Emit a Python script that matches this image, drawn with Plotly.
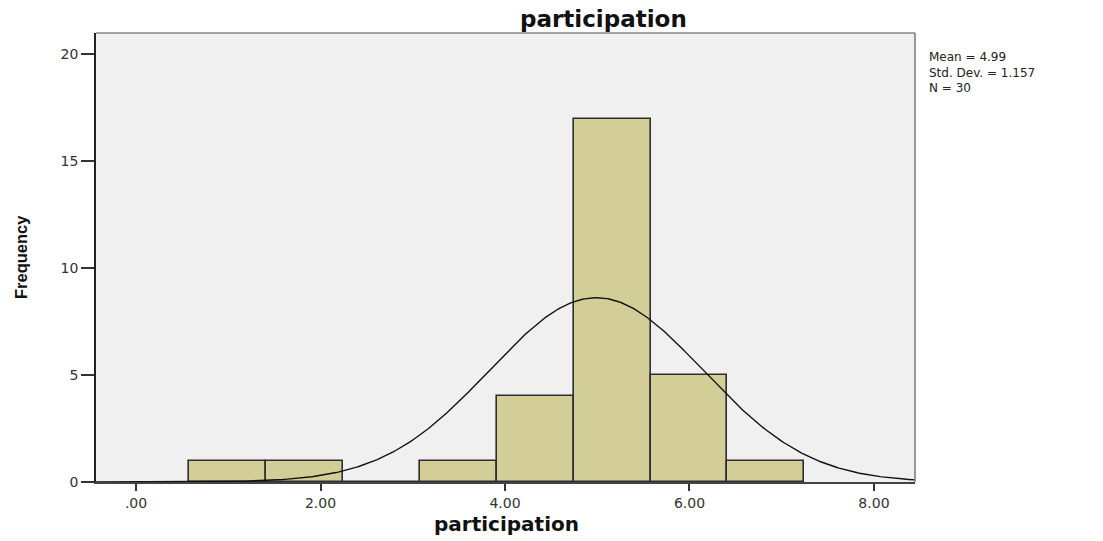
import numpy as np
import plotly.graph_objects as go

# ---- data ----
bin_lefts = [0.578, 1.411, 2.245, 3.078, 3.911, 4.745, 5.578, 6.411]
bin_width = 0.8333
counts = [1, 1, 0, 1, 4, 17, 5, 1]
x_ticks = [0, 2, 4, 6, 8]
x_tick_labels = [".00", "2.00", "4.00", "6.00", "8.00"]
y_ticks = [0, 5, 10, 15, 20]
MEAN = 4.99
STD = 1.157
N = 30
x_range = [-0.434, 8.445]
y_range = [0, 21.0]

centers = [l + bin_width / 2 for l in bin_lefts]

# fitted normal curve scaled to counts
xc = np.linspace(x_range[0], x_range[1], 400)
yc = N * bin_width / (STD * np.sqrt(2 * np.pi)) * np.exp(-0.5 * ((xc - MEAN) / STD) ** 2)

W, H = 1103, 541
L, R, T, B = 96, 1103 - 915, 33, 541 - 482
pw, ph = W - L - R, H - T - B

def px_x(px):
    return (px - L) / pw

def px_y(py):
    return (H - B - py) / ph

fig = go.Figure()
fig.add_trace(go.Bar(
    x=centers, y=counts, width=[bin_width] * len(counts),
    marker=dict(color="#d3ce98", line=dict(color="#2e2e2e", width=1.6)),
    hoverinfo="x+y", showlegend=False,
))
fig.add_trace(go.Scatter(
    x=xc, y=yc, mode="lines", line=dict(color="#111111", width=1.4),
    hoverinfo="skip", showlegend=False,
))

tick_font = dict(family="DejaVu Sans, Liberation Sans, Arial", size=14, color="#333333")

stats_text = f"Mean = {MEAN:.2f}<br>Std. Dev. = {STD:.3f}<br>N = {N}"

fig.update_layout(
    width=W, height=H,
    margin=dict(l=L, r=R, t=T, b=B, pad=0),
    paper_bgcolor="white",
    plot_bgcolor="#f0f0f0",
    bargap=0,
    xaxis=dict(
        range=x_range, tickmode="array", tickvals=x_ticks, ticktext=x_tick_labels,
        ticks="outside", ticklen=7, tickwidth=1.5, tickcolor="#333333",
        showline=True, linecolor="#444444", linewidth=1.5,
        showgrid=False, zeroline=False, tickfont=tick_font,
    ),
    yaxis=dict(
        range=y_range, tickmode="array", tickvals=y_ticks,
        ticks="outside", ticklen=13, tickwidth=1.5, tickcolor="#333333",
        showline=True, linecolor="#222222", linewidth=1.8,
        showgrid=False, zeroline=False, tickfont=tick_font,
    ),
    shapes=[
        dict(type="line", xref="paper", yref="paper", x0=0, x1=1, y0=1, y1=1,
             line=dict(color="#888888", width=1.5)),
        dict(type="line", xref="paper", yref="paper", x0=1, x1=1, y0=0, y1=1,
             line=dict(color="#777777", width=1.5)),
    ],
    annotations=[
        dict(text="participation", xref="paper", yref="paper",
             x=px_x(603), y=px_y(19), xanchor="center", yanchor="middle",
             showarrow=False,
             font=dict(family="DejaVu Sans, Liberation Sans, Arial", size=23,
                       color="#111111", weight="bold")),
        dict(text="participation", xref="paper", yref="paper",
             x=px_x(506), y=px_y(524), xanchor="center", yanchor="middle",
             showarrow=False,
             font=dict(family="DejaVu Sans, Liberation Sans, Arial", size=20,
                       color="#111111", weight="bold")),
        dict(text="Frequency", xref="paper", yref="paper",
             x=px_x(21), y=px_y(257), xanchor="center", yanchor="middle",
             textangle=-90, showarrow=False,
             font=dict(family="Liberation Sans, Arial", size=16.5,
                       color="#111111", weight="bold")),
        dict(text=stats_text, xref="paper", yref="paper",
             x=px_x(928), y=px_y(73), xanchor="left", yanchor="middle",
             align="left", showarrow=False, borderpad=0,
             font=dict(family="DejaVu Sans, Liberation Sans, Arial", size=12, color="#222222")),
    ],
)

fig.write_html("out.html")
